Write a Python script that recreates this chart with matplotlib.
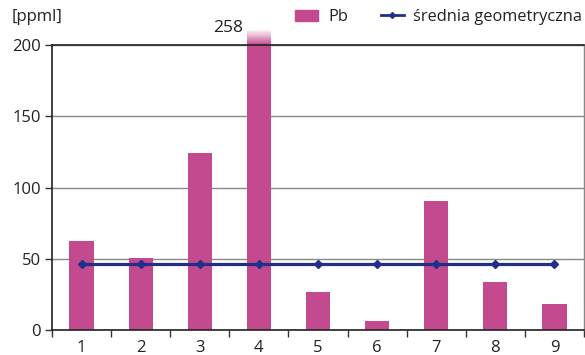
import numpy as np
import matplotlib
matplotlib.use("Agg")
import matplotlib.pyplot as plt
from matplotlib.lines import Line2D
from matplotlib.patches import Patch

plt.rcParams['font.family'] = ['Open Sans', 'DejaVu Sans']

categories = ['1', '2', '3', '4', '5', '6', '7', '8', '9']
pb = [62.5, 50.5, 124, 258, 26.7, 6.3, 90.5, 33.7, 18.2]
geo_mean = [46.3] * 9
y_ticks = [0, 50, 100, 150, 200]

bar_color = '#C44A8F'
line_color = '#1F2F8A'
ymax = 200

fig = plt.figure(figsize=(5.85, 3.55), dpi=100)
ax = fig.add_axes([52 / 585, 1 - 330 / 355, 532 / 585, 285 / 355])

x = np.arange(len(categories))
shown = [min(v, ymax) for v in pb]
ax.bar(x, shown, width=0.41, color=bar_color, zorder=2)

# bars beyond the axis limit get a short fading cap above the frame
for xi, v in zip(x, pb):
    if v > ymax:
        n = 30
        cap = 11.0
        for k in range(n):
            ax.bar(xi, cap / n, width=0.41, bottom=ymax + k * cap / n,
                   color=bar_color, alpha=1 - (k + 0.5) / n, linewidth=0,
                   clip_on=False, zorder=2)
        ax.text(xi - 0.52, ymax + 6, f'{v:g}', ha='center', va='bottom',
                fontsize=12.5, color='#222222', clip_on=False)

ax.plot(x, geo_mean, color=line_color, lw=2.3, marker='D', markersize=4,
        zorder=3)

ax.set_xlim(-0.5, len(categories) - 0.5)
ax.set_ylim(0, ymax)
ax.set_yticks(y_ticks)
ax.set_xticks(x)
ax.set_xticklabels(categories)
ax.set_xticks(np.arange(len(categories) + 1) - 0.5, minor=True)
ax.tick_params(axis='x', which='major', length=0, pad=7, labelsize=12,
               colors='#222222')
ax.tick_params(axis='x', which='minor', length=5, width=1, color='#333333',
               direction='out')
ax.tick_params(axis='y', length=5, width=1, color='#333333', pad=3,
               labelsize=12, labelcolor='#222222')
ax.yaxis.grid(True, color='#888888', lw=1, zorder=0)
ax.set_axisbelow(True)

for s in ['left', 'bottom', 'top']:
    ax.spines[s].set_color('#222222')
    ax.spines[s].set_linewidth(1.2)
ax.spines['right'].set_color('#888888')
ax.spines['right'].set_linewidth(1)

fig.text(12 / 585, 1 - 17 / 355, '[ppml]', fontsize=12, color='#222222',
         va='center', ha='left')

handles = [Patch(color=bar_color, label='Pb'),
           Line2D([0], [0], color=line_color, lw=2, marker='D', markersize=3,
                  label='średnia geometryczna')]
fig.legend(handles=handles, loc='center left',
           bbox_to_anchor=(292 / 585, 1 - 17 / 355), ncol=2, frameon=False,
           fontsize=11.8, handlelength=1.4, handletextpad=0.6, numpoints=1,
           columnspacing=2.0, labelcolor='#222222', borderaxespad=0,
           borderpad=0.2)

fig.savefig('out.png', dpi=100)
